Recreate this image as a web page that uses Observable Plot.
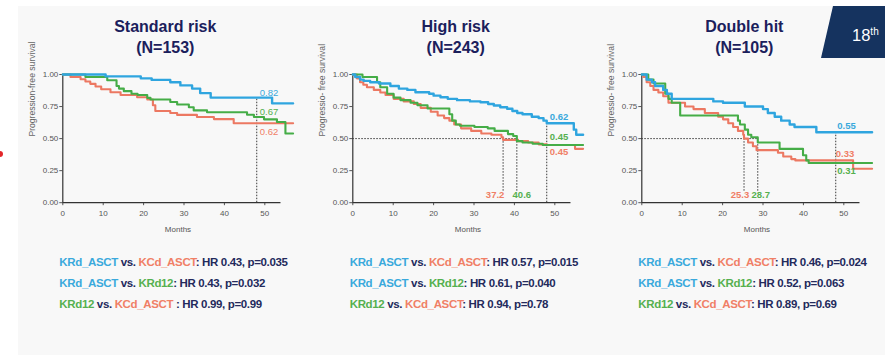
<!DOCTYPE html>
<html>
<head>
<meta charset="utf-8">
<script src="https://cdn.jsdelivr.net/npm/d3@7"></script>
<script src="https://cdn.jsdelivr.net/npm/@observablehq/plot@0.6"></script>
<style>
  html, body { margin: 0; padding: 0; background: #ffffff; }
  #page { position: relative; width: 885px; height: 355px; overflow: hidden; font-family: "Liberation Sans", Arial, sans-serif; }
  #slide { position: absolute; left: 18px; top: 6px; right: 0; bottom: 0; background: #f8f8f8; }
  .panel { position: absolute; top: 0; width: 300px; height: 355px; }
  .title { position: absolute; top: 16px; width: 200px; text-align: center; font-weight: bold; font-size: 16px; line-height: 21px; color: #1b205c; }
  .plotbox { position: absolute; top: 60px; left: 0; }
  .notes { position: absolute; top: 252px; left: 59.3px; white-space: nowrap; font-weight: bold; font-size: 11.5px; line-height: 21px; letter-spacing: -0.35px; color: #232a5c; }
  #badge { position: absolute; left: 821px; top: 6px; width: 64px; height: 52px; background: #15335f; clip-path: polygon(12px 0, 64px 0, 64px 52px, 0 52px); }
  #badge span { position: absolute; left: 31px; top: 16px; color: #fff; font-size: 16.5px; font-weight: normal; font-family: "Liberation Sans", Arial, sans-serif; line-height: 20px; }
  #badge sup { font-size: 10px; vertical-align: 6px; }
  #dot { position: absolute; left: 0; top: 151px; width: 3px; height: 6px; background: #e3262a; border-radius: 0 3px 3px 0; }
</style>
</head>
<body>
<div id="page">
  <div id="slide"></div>
  <div id="dot"></div>
  <div id="badge"><span>18<sup>th</sup></span></div>
</div>
<script>
// ---------------- DATA ----------------
const groups = ["KRd_ASCT", "KCd_ASCT", "KRd12"];
const panelTitles = ["Standard risk", "High risk", "Double hit"];
const panelN = ["(N=153)", "(N=243)", "(N=105)"];
const yLabels = ["Progression-free survival", "Progressio- free survival", "Progressio- free survival"];
const xTicks = [0, 10, 20, 30, 40, 50];
const yTicks = [0, 0.25, 0.5, 0.75, 1];

// Kaplan-Meier steps [month, survival]
const std_KRd_ASCT = [[0,1],[10.6,0.985],[19.3,0.97],[22,0.958],[26.6,0.94],[29.1,0.915],[32,0.89],[34,0.855],[36.6,0.82],[51.8,0.775],[57,0.775]];
const std_KCd_ASCT = [[0,1],[1.9,0.98],[4.4,0.963],[5.6,0.945],[6.8,0.927],[8.1,0.906],[9.5,0.885],[11.8,0.862],[14.3,0.84],[18.4,0.823],[20.9,0.805],[22.3,0.76],[22.9,0.715],[26.6,0.70],[28.3,0.685],[33.2,0.668],[37.4,0.652],[42.3,0.62],[57,0.62]];
const std_KRd12 = [[0,1],[5.6,0.98],[11,0.955],[13.3,0.91],[13.9,0.89],[15.1,0.87],[17,0.85],[18.5,0.84],[20.9,0.818],[21.7,0.805],[26.6,0.785],[28.3,0.766],[31.2,0.745],[32.4,0.72],[35.7,0.705],[45.6,0.686],[47.3,0.668],[49.8,0.65],[53,0.63],[55.1,0.54],[57,0.54]];

const high_KRd_ASCT = [[0,1],[0.6,0.98],[1.8,0.96],[2.7,0.95],[4.3,0.94],[6.5,0.93],[9.3,0.91],[11.4,0.89],[13.5,0.88],[15.5,0.862],[18.9,0.85],[20,0.835],[21.7,0.823],[23.5,0.81],[25.8,0.80],[29,0.79],[31.6,0.784],[33.5,0.77],[34.9,0.758],[36.5,0.745],[38.2,0.733],[39.5,0.715],[40.7,0.70],[42,0.69],[44.3,0.67],[46,0.66],[47.2,0.64],[48,0.62],[54.7,0.57],[55.3,0.53],[57,0.53]];
const high_KCd_ASCT = [[0,1],[1,0.97],[1.8,0.94],[2.6,0.92],[3.5,0.90],[5.2,0.88],[6.8,0.86],[8.1,0.84],[10.1,0.81],[12.6,0.79],[15.1,0.77],[16.8,0.74],[19.3,0.71],[21,0.68],[22.6,0.66],[23.9,0.64],[25.1,0.61],[26.8,0.58],[29.3,0.56],[31.8,0.54],[34.3,0.53],[36.8,0.51],[37.2,0.49],[40.9,0.48],[43.4,0.47],[46,0.455],[48,0.45],[55,0.42],[57,0.42]];
const high_KRd12 = [[0,1],[2.4,0.98],[6,0.94],[6.8,0.90],[8.5,0.85],[10.1,0.82],[11.8,0.80],[14.3,0.78],[16,0.76],[18.5,0.735],[23.9,0.69],[24.6,0.64],[25.5,0.61],[26.5,0.60],[30.1,0.59],[33.4,0.58],[35.1,0.56],[38.4,0.535],[39.7,0.52],[40.6,0.48],[42,0.47],[44.5,0.46],[47,0.45],[57,0.45]];

const dh_KRd_ASCT = [[0,1],[1.2,0.96],[2.5,0.94],[3.3,0.91],[5.3,0.88],[6.2,0.85],[7.4,0.81],[17.7,0.79],[20.1,0.78],[25.5,0.75],[30,0.73],[31.2,0.70],[32.9,0.67],[34.5,0.64],[36.6,0.61],[37.8,0.59],[43.2,0.55],[57,0.55]];
const dh_KCd_ASCT = [[0,1],[0.4,0.98],[1.2,0.94],[2.1,0.91],[2.9,0.88],[4.1,0.86],[5.3,0.83],[6.6,0.78],[10.7,0.75],[12.8,0.73],[15.6,0.70],[18.9,0.67],[20.1,0.65],[21.4,0.62],[22.6,0.59],[23.8,0.56],[25.1,0.53],[25.3,0.50],[26.3,0.47],[27.5,0.44],[28.4,0.41],[33.7,0.39],[35,0.36],[37,0.34],[38,0.33],[52.3,0.265],[57,0.265]];
const dh_KRd12 = [[0,1],[1.6,0.96],[2.9,0.93],[5.8,0.85],[6.6,0.81],[7.4,0.78],[9.5,0.68],[23.8,0.64],[24.3,0.61],[25.5,0.57],[26.3,0.53],[27.1,0.51],[28.7,0.47],[34.1,0.42],[39.9,0.37],[40.7,0.33],[41.3,0.31],[57,0.31]];

// 48-month landmark values [KRd_ASCT, KCd_ASCT, KRd12]
const landmarkMonth = 48;
const landmarkStd = [0.82, 0.62, 0.67];
const landmarkHigh = [0.62, 0.45, 0.45];
const landmarkDh = [0.55, 0.33, 0.31];

// median PFS (KCd_ASCT, KRd12), null = not reached
const medianStd = [null, null];
const medianHigh = [37.2, 40.6];
const medianDh = [25.3, 28.7];

// comparisons text
const comparisons = [["KRd_ASCT", "KCd_ASCT"], ["KRd_ASCT", "KRd12"], ["KRd12", "KCd_ASCT"]];
const hrStd = ["0.43", "0.43", "0.99"], pStd = ["0.035", "0.032", "0.99"];
const hrHigh = ["0.57", "0.61", "0.94"], pHigh = ["0.015", "0.040", "0.78"];
const hrDh = ["0.46", "0.52", "0.89"], pDh = ["0.024", "0.063", "0.69"];

// ---------------- STYLE ----------------
const lineColors = {KRd_ASCT: "#2fa5df", KCd_ASCT: "#ec7862", KRd12: "#45ad47"};
const textColors = {KRd_ASCT: "#3aa9dc", KCd_ASCT: "#f07f66", KRd12: "#55b04f"};
const panelLeft = [0, 290.4, 579];
const xAxisEnd = 54;
// label offsets [dx, dy] for landmark labels per panel, order KRd_ASCT, KCd_ASCT, KRd12
const landmarkOffsets = [
  [[3, -5], [3, 8.6], [3, -4.5]],
  [[3, -6], [3, 7], [3, -7.7]],
  [[1.5, -6.3], [0, -6.2], [1.5, 7.7]]
];
const landmarkWeight = ["normal", "bold", "bold"];
const medianOffsets = [null, [[-8, -7.3], [5, -7.3]], [[-4, -7.3], [3, -7.3]]];
const medianLineBottom = 0.09;

const panels = [
  {curves: [std_KRd_ASCT, std_KCd_ASCT, std_KRd12], landmark: landmarkStd, median: medianStd, hr: hrStd, p: pStd},
  {curves: [high_KRd_ASCT, high_KCd_ASCT, high_KRd12], landmark: landmarkHigh, median: medianHigh, hr: hrHigh, p: pHigh},
  {curves: [dh_KRd_ASCT, dh_KCd_ASCT, dh_KRd12], landmark: landmarkDh, median: medianDh, hr: hrDh, p: pDh}
];

const page = document.getElementById("page");
const dotted = {stroke: "#3a3a3a", strokeWidth: 1, strokeDasharray: "1.5,1.5"};

panels.forEach((P, i) => {
  const div = document.createElement("div");
  div.className = "panel";
  div.style.left = panelLeft[i] + "px";
  page.appendChild(div);

  const title = document.createElement("div");
  title.className = "title";
  title.style.left = "65.3px";
  title.innerHTML = panelTitles[i] + "<br>" + panelN[i];
  div.appendChild(title);

  const marks = [];
  marks.push(Plot.ruleX([landmarkMonth], {y1: 0, y2: P.landmark[0], ...dotted}));
  const meds = P.median.filter(m => m != null);
  if (meds.length) {
    marks.push(Plot.ruleY([0.5], {x1: 0, x2: d3.max(meds), ...dotted}));
    marks.push(Plot.ruleX(meds, {y1: medianLineBottom, y2: 0.5, ...dotted}));
  }
  marks.push(Plot.ruleY([0], {x1: 0, x2: xAxisEnd, stroke: "#333", strokeWidth: 1.2}));
  marks.push(Plot.ruleX([0], {y1: 0, y2: 1, stroke: "#333", strokeWidth: 1.2}));
  [1, 2, 0].forEach(g => {
    marks.push(Plot.line(P.curves[g], {x: d => d[0], y: d => d[1], curve: "step-after", stroke: lineColors[groups[g]], strokeWidth: g === 0 ? 2.4 : 2.1}));
  });
  P.landmark.forEach((v, g) => {
    const [dx, dy] = landmarkOffsets[i][g];
    marks.push(Plot.text([v], {x: () => landmarkMonth, y: d => d, text: d => d3.format(".2f")(d), textAnchor: "start", dx, dy, fill: textColors[groups[g]], fontSize: 9.5, fontWeight: landmarkWeight[i]}));
  });
  P.median.forEach((m, k) => {
    if (m == null) return;
    const [dx, dy] = medianOffsets[i][k];
    marks.push(Plot.text([m], {x: d => d, y: () => 0, text: d => d3.format(".1f")(d), textAnchor: "middle", dx, dy, fill: textColors[groups[k + 1]], fontSize: 9.5, fontWeight: "bold"}));
  });
  marks.push(Plot.text(["Months"], {frameAnchor: "bottom", text: d => d, dy: 29.5, fontSize: 8, fill: "#555"}));
  marks.push(Plot.text([yLabels[i]], {frameAnchor: "left", text: d => d, dx: -30.6, dy: -2, rotate: -90, fontSize: 8.6, fill: "#666"}));

  const svg = Plot.plot({
    width: 300,
    height: 180,
    marginLeft: 62.3,
    marginRight: 7.4,
    marginTop: 14,
    marginBottom: 37.8,
    x: {domain: [0, 57], ticks: xTicks, tickSize: 3, tickPadding: 5, label: null},
    y: {domain: [0, 1], ticks: yTicks, tickFormat: d3.format(".2f"), tickSize: 3, tickPadding: 1.5, label: null},
    style: {background: "transparent", overflow: "visible", fontSize: "8px", fontFamily: "Liberation Sans, Arial, sans-serif", color: "#555"},
    marks
  });
  const box = document.createElement("div");
  box.className = "plotbox";
  box.appendChild(svg);
  div.appendChild(box);

  const notes = document.createElement("div");
  notes.className = "notes";
  notes.innerHTML = comparisons.map(([a, b], k) => {
    const sep = (i === 0 && k === 2) ? " :" : ":";
    return `<span style="color:${textColors[a]}">${a}</span> vs. <span style="color:${textColors[b]}">${b}</span>${sep} HR ${P.hr[k]}, p=${P.p[k]}`;
  }).join("<br>");
  div.appendChild(notes);
});
</script>
</body>
</html>
